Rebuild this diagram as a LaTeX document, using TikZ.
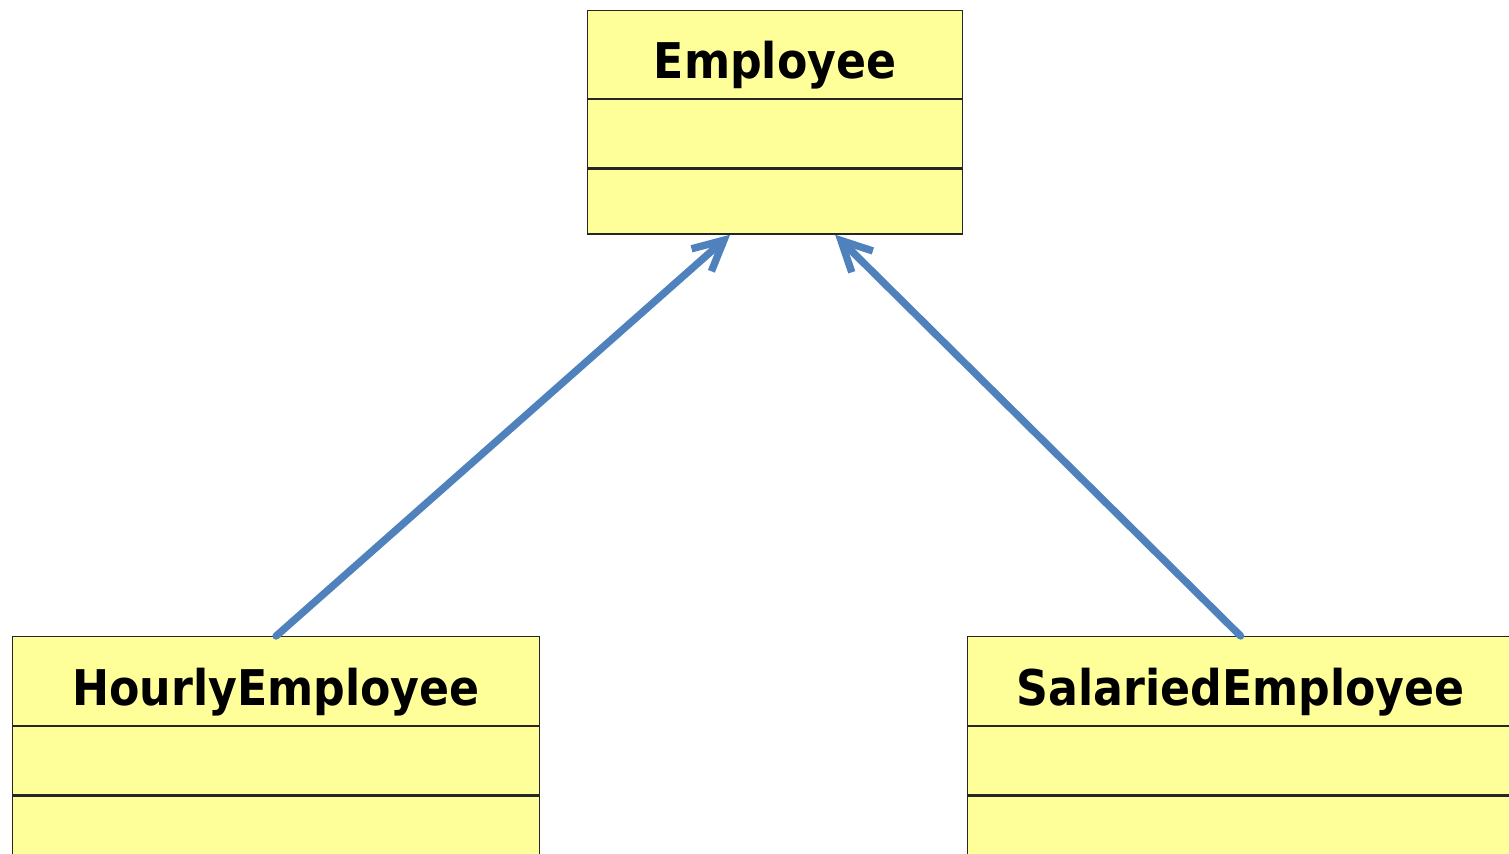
\documentclass[tikz,border=0pt]{standalone}
\usepackage{fontspec}
\setmainfont{DejaVu Sans Condensed}
\usetikzlibrary{arrows.meta}
\definecolor{umlyellow}{HTML}{FFFF99}
\definecolor{umlblue}{HTML}{4F81BD}
\tikzset{
  classname/.style={draw=black!85, fill=umlyellow, line width=0.35pt, anchor=north west,
    minimum height=0.88cm, inner sep=0pt, text height=0.48cm, text depth=0pt,
    font=\bfseries\fontsize{14}{16}\selectfont},
  classpart/.style={draw=black!85, fill=umlyellow, line width=0.35pt, anchor=north west,
    minimum height=0.68cm, inner sep=0pt},
  inherit/.style={draw=umlblue, line width=2.1pt, line cap=round, line join=round,
    -{Straight Barb[length=3mm, width=3mm]}}
}
\begin{document}
\begin{tikzpicture}
            \useasboundingbox (0,0) rectangle (15.09,-8.53);
            \clip (0,0) rectangle (15.09,-8.53);
            % superclass
            \node[classname, minimum width=3.75cm] (emp) at (5.87,-0.10) {Employee};
            \node[classpart, minimum width=3.75cm] (empattr) at (emp.south west) {};
            \node[classpart, minimum width=3.75cm, minimum height=0.65cm] (empops) at (empattr.south west) {};
            % subclasses
            \node[classname, minimum width=5.27cm, minimum height=0.89cm] (hourly) at (0.12,-6.36) {HourlyEmployee};
            \node[classpart, minimum width=5.27cm] (hourlyattr) at (hourly.south west) {};
            \node[classpart, minimum width=5.27cm, minimum height=1cm] (hourlyops) at (hourlyattr.south west) {};
            \node[classname, minimum width=5.46cm, minimum height=0.89cm] (salaried) at (9.67,-6.36) {SalariedEmployee};
            \node[classpart, minimum width=5.46cm] (salariedattr) at (salaried.south west) {};
            \node[classpart, minimum width=5.46cm, minimum height=1cm] (salariedops) at (salariedattr.south west) {};
            
            \draw[inherit] (hourly.north) -- ([xshift=-0.45cm]empops.south);
            \draw[inherit] (salaried.north) -- ([xshift=0.60cm]empops.south);
        \end{tikzpicture}
\end{document}
